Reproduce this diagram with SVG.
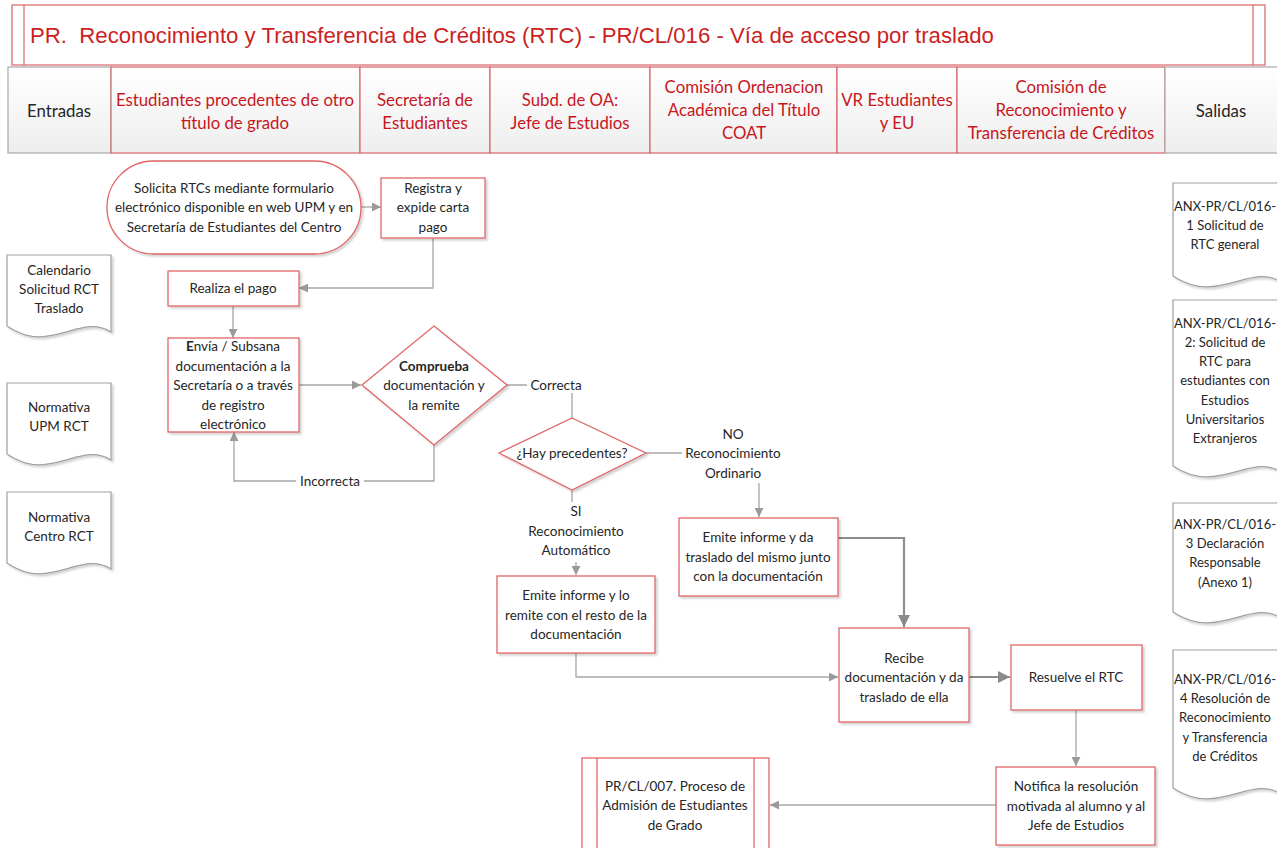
<svg xmlns="http://www.w3.org/2000/svg" width="1277" height="848" viewBox="0 0 1277 848">
<defs>
<linearGradient id="hg" x1="0" y1="0" x2="0" y2="1">
<stop offset="0" stop-color="#ffffff"/>
<stop offset="1" stop-color="#eeeeee"/>
</linearGradient>
<filter id="sh" x="-10%" y="-10%" width="130%" height="130%">
<feDropShadow dx="2" dy="2" stdDeviation="1.2" flood-color="#000" flood-opacity="0.18"/>
</filter>
<marker id="ar" viewBox="0 0 10 10" refX="10" refY="5" markerWidth="9" markerHeight="9" markerUnits="userSpaceOnUse" orient="auto">
<path d="M0,0 L10,5 L0,10 Z" fill="#9a9a9a"/>
</marker>
<marker id="arb" viewBox="0 0 10 10" refX="10" refY="5" markerWidth="12" markerHeight="12" markerUnits="userSpaceOnUse" orient="auto">
<path d="M0,0 L10,5 L0,10 Z" fill="#8a8a8a"/>
</marker>
</defs>
<style>
.node{fill:#fff;stroke:#E06666;stroke-width:1.3}
.lane{fill:url(#hg);stroke:#D9646A;stroke-width:1.2}
.io{fill:url(#hg);stroke:#A8A8A8;stroke-width:1.2}
.doc{fill:#fff;stroke:#A0A0A0;stroke-width:1.2}
.t{font-family:Lato,"Liberation Sans",sans-serif;font-size:13.5px;fill:#262626;text-anchor:middle;dominant-baseline:central}
.ts{font-size:13px}
.h{font-family:Lato,"Liberation Sans",sans-serif;font-size:16.8px;fill:#C8161D;text-anchor:middle;dominant-baseline:central}
.hk{font-family:Lato,"Liberation Sans",sans-serif;font-size:16.8px;fill:#262626;text-anchor:middle;dominant-baseline:central}
.conn{fill:none;stroke:#A6A6A6;stroke-width:1.3}
.connb{fill:none;stroke:#8C8C8C;stroke-width:2.2}
.lbg{fill:#fff;stroke:none}
</style>
<rect width="1277" height="848" fill="#fff"/>

<g id="title">
<rect x="12" y="5" width="1253" height="60" fill="#fff" stroke="#D9646A" stroke-width="1.2"/>
<line x1="24" y1="5" x2="24" y2="65" stroke="#D9646A" stroke-width="1.2"/>
<line x1="1253" y1="5" x2="1253" y2="65" stroke="#D9646A" stroke-width="1.2"/>
<text x="30" y="43" font-family="'Liberation Sans',Arial,sans-serif" font-size="22.2" fill="#CC1F1F">PR.&#160; Reconocimiento y Transferencia de Créditos (RTC) - PR/CL/016 - Vía de acceso por traslado</text>
</g>

<g id="header">
<rect class="io" x="8" y="67" width="103" height="86"/>
<text class="hk" x="59" y="110">Entradas</text>
<rect class="lane" x="111" y="67" width="249" height="86"/>
<text class="h" x="235" y="99">Estudiantes procedentes de otro</text>
<text class="h" x="235" y="122">título de grado</text>
<rect class="lane" x="360" y="67" width="130" height="86"/>
<text class="h" x="425" y="99">Secretaría de</text>
<text class="h" x="425" y="122">Estudiantes</text>
<rect class="lane" x="490" y="67" width="160" height="86"/>
<text class="h" x="570" y="99">Subd. de OA:</text>
<text class="h" x="570" y="122">Jefe de Estudios</text>
<rect class="lane" x="650" y="67" width="187" height="86"/>
<text class="h" x="744" y="86">Comisión Ordenacion</text>
<text class="h" x="744" y="109">Académica del Título</text>
<text class="h" x="744" y="132">COAT</text>
<rect class="lane" x="837" y="67" width="120" height="86"/>
<text class="h" x="897" y="99">VR Estudiantes</text>
<text class="h" x="897" y="122">y EU</text>
<rect class="lane" x="957" y="67" width="208" height="86"/>
<text class="h" x="1061" y="86">Comisión de</text>
<text class="h" x="1061" y="109">Reconocimiento y</text>
<text class="h" x="1061" y="132">Transferencia de Créditos</text>
<rect class="io" x="1165" y="67" width="115" height="86"/>
<text class="hk" x="1221" y="110">Salidas</text>
</g>

<g id="connectors">
<line class="conn" x1="361" y1="207" x2="381" y2="207" marker-end="url(#ar)"/>
<polyline class="conn" points="433,238 433,288 299,288" marker-end="url(#ar)"/>
<line class="conn" x1="233" y1="306" x2="233" y2="338" marker-end="url(#ar)"/>
<line class="conn" x1="299" y1="385" x2="361" y2="385" marker-end="url(#ar)"/>
<polyline class="conn" points="434,445 434,481 234,481 234,432" marker-end="url(#ar)"/>
<polyline class="conn" points="507,385 572,385 572,418"/>
<line class="conn" x1="646" y1="453" x2="700" y2="453"/>
<line class="conn" x1="572" y1="490" x2="572" y2="505"/>
<line class="conn" x1="759" y1="483" x2="759" y2="517" marker-end="url(#ar)"/>
<line class="conn" x1="576" y1="562" x2="576" y2="575" marker-end="url(#ar)"/>
<polyline class="conn" points="576,653 576,677 838,677" marker-end="url(#ar)"/>
<polyline class="connb" points="838,538 904,538 904,627" marker-end="url(#arb)"/>
<line class="connb" x1="969" y1="677" x2="1010" y2="677" marker-end="url(#arb)"/>
<line class="conn" x1="1076" y1="710" x2="1076" y2="766" marker-end="url(#ar)"/>
<line class="conn" x1="996" y1="805" x2="770" y2="805" marker-end="url(#ar)"/>
<rect class="lbg" x="296" y="473" width="68" height="16"/>
<text class="t" x="330" y="481">Incorrecta</text>
<rect class="lbg" x="527" y="377" width="58" height="16"/>
<text class="t" x="556" y="385">Correcta</text>
<rect class="lbg" x="682" y="425" width="102" height="57"/>
<text class="t" x="733" y="434">NO</text>
<text class="t" x="733" y="453">Reconocimiento</text>
<text class="t" x="733" y="473">Ordinario</text>
<rect class="lbg" x="525" y="502" width="102" height="58"/>
<text class="t" x="576" y="511">SI</text>
<text class="t" x="576" y="531">Reconocimiento</text>
<text class="t" x="576" y="550">Automático</text>
</g>

<g id="n_solicita">
<rect class="node" filter="url(#sh)" x="107" y="161" width="254" height="93" rx="46.5"/>
<text class="t" x="234" y="188">Solicita RTCs mediante formulario</text>
<text class="t" x="234" y="207">electrónico disponible en web UPM y en</text>
<text class="t" x="234" y="227">Secretaría de Estudiantes del Centro</text>
</g>
<g id="n_registra">
<rect class="node" filter="url(#sh)" x="381" y="178" width="104" height="60"/>
<text class="t" x="433" y="188">Registra y</text>
<text class="t" x="433" y="207">expide carta</text>
<text class="t" x="433" y="227">pago</text>
</g>
<g id="n_realiza">
<rect class="node" filter="url(#sh)" x="168" y="271" width="131" height="35"/>
<text class="t" x="233" y="288">Realiza el pago</text>
</g>
<g id="n_envia">
<rect class="node" filter="url(#sh)" x="168" y="338" width="131" height="94"/>
<text class="t" x="233" y="346"><tspan font-weight="bold">E</tspan>nvía / Subsana</text>
<text class="t" x="233" y="366">documentación a la</text>
<text class="t" x="233" y="385">Secretaría o a través</text>
<text class="t" x="233" y="405">de registro</text>
<text class="t" x="233" y="424">electrónico</text>
</g>
<g id="n_comprueba">
<polygon class="node" filter="url(#sh)" points="434,326 507,385 434,445 362,385"/>
<text class="t" x="434" y="366" font-weight="bold">Comprueba</text>
<text class="t" x="434" y="385">documentación y</text>
<text class="t" x="434" y="405">la remite</text>
</g>
<g id="n_precedentes">
<polygon class="node" filter="url(#sh)" points="572,418 646,453 572,490 499,453"/>
<text class="t" x="572" y="453">¿Hay precedentes?</text>
</g>
<g id="n_emite_no">
<rect class="node" filter="url(#sh)" x="679" y="518" width="159" height="78"/>
<text class="t" x="758" y="537">Emite informe y da</text>
<text class="t" x="758" y="557">traslado del mismo junto</text>
<text class="t" x="758" y="576">con la documentación</text>
</g>
<g id="n_emite_si">
<rect class="node" filter="url(#sh)" x="497" y="576" width="158" height="77"/>
<text class="t" x="576" y="595">Emite informe y lo</text>
<text class="t" x="576" y="615">remite con el resto de la</text>
<text class="t" x="576" y="634">documentación</text>
</g>
<g id="n_recibe">
<rect class="node" filter="url(#sh)" x="839" y="628" width="130" height="94"/>
<text class="t" x="904" y="658">Recibe</text>
<text class="t" x="904" y="677">documentación y da</text>
<text class="t" x="904" y="697">traslado de ella</text>
</g>
<g id="n_resuelve">
<rect class="node" filter="url(#sh)" x="1011" y="645" width="131" height="65"/>
<text class="t" x="1076" y="677">Resuelve el RTC</text>
</g>
<g id="n_notifica">
<rect class="node" filter="url(#sh)" x="996" y="767" width="159" height="78"/>
<text class="t" x="1076" y="786">Notifica la resolución</text>
<text class="t" x="1076" y="806">motivada al alumno y al</text>
<text class="t" x="1076" y="825">Jefe de Estudios</text>
</g>
<g id="n_prcl007">
<rect class="node" x="582" y="758" width="187" height="100"/>
<line x1="597" y1="758" x2="597" y2="848" stroke="#E06666" stroke-width="1.3"/>
<line x1="754" y1="758" x2="754" y2="848" stroke="#E06666" stroke-width="1.3"/>
<text class="t" x="675" y="786">PR/CL/007. Proceso de</text>
<text class="t" x="675" y="805">Admisión de Estudiantes</text>
<text class="t" x="675" y="825">de Grado</text>
</g>

<g id="d_calendario">
<path class="doc" filter="url(#sh)" d="M7,255 H111 V332 C80,312 50,356 7,326 Z"/>
<text class="t" x="59" y="270">Calendario</text>
<text class="t" x="59" y="289">Solicitud RCT</text>
<text class="t" x="59" y="308">Traslado</text>
</g>
<g id="d_normativa_upm">
<path class="doc" filter="url(#sh)" d="M7,383 H111 V460 C80,440 50,484 7,454 Z"/>
<text class="t" x="59" y="407">Normativa</text>
<text class="t" x="59" y="426">UPM RCT</text>
</g>
<g id="d_normativa_centro">
<path class="doc" filter="url(#sh)" d="M7,492 H111 V569 C80,549 50,593 7,563 Z"/>
<text class="t" x="59" y="517">Normativa</text>
<text class="t" x="59" y="536">Centro RCT</text>
</g>

<g id="d_anx1">
<path class="doc" filter="url(#sh)" d="M1173,183 H1281 V282 C1250,262 1218,306 1173,276 Z"/>
<text class="t ts" x="1225" y="206">ANX-PR/CL/016-</text>
<text class="t ts" x="1225" y="225">1 Solicitud de</text>
<text class="t ts" x="1225" y="244">RTC general</text>
</g>
<g id="d_anx2">
<path class="doc" filter="url(#sh)" d="M1173,300 H1281 V472 C1250,452 1218,496 1173,466 Z"/>
<text class="t ts" x="1225" y="323">ANX-PR/CL/016-</text>
<text class="t ts" x="1225" y="342">2: Solicitud de</text>
<text class="t ts" x="1225" y="361">RTC para</text>
<text class="t ts" x="1225" y="380">estudiantes con</text>
<text class="t ts" x="1225" y="400">Estudios</text>
<text class="t ts" x="1225" y="419">Universitarios</text>
<text class="t ts" x="1225" y="438">Extranjeros</text>
</g>
<g id="d_anx3">
<path class="doc" filter="url(#sh)" d="M1173,503 H1281 V618 C1250,598 1218,642 1173,612 Z"/>
<text class="t ts" x="1225" y="524">ANX-PR/CL/016-</text>
<text class="t ts" x="1225" y="543">3 Declaración</text>
<text class="t ts" x="1225" y="562">Responsable</text>
<text class="t ts" x="1225" y="582">(Anexo 1)</text>
</g>
<g id="d_anx4">
<path class="doc" filter="url(#sh)" d="M1173,650 H1281 V794 C1250,774 1218,818 1173,788 Z"/>
<text class="t ts" x="1225" y="679">ANX-PR/CL/016-</text>
<text class="t ts" x="1225" y="698">4 Resolución de</text>
<text class="t ts" x="1225" y="717">Reconocimiento</text>
<text class="t ts" x="1225" y="737">y Transferencia</text>
<text class="t ts" x="1225" y="756">de Créditos</text>
</g>
</svg>
